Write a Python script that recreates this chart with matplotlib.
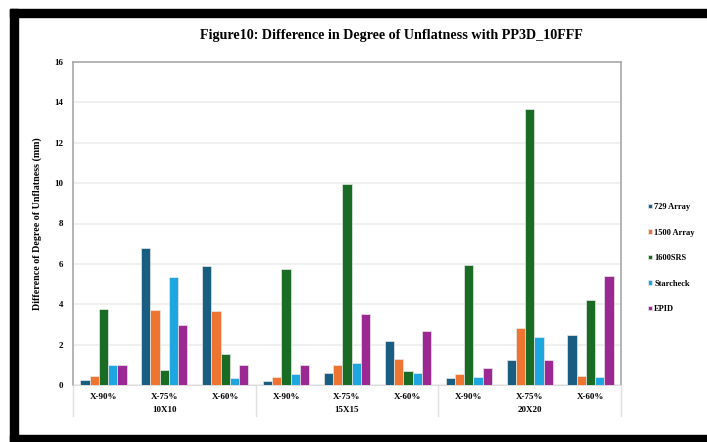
import numpy as np
import matplotlib.pyplot as plt
import matplotlib.transforms as mtransforms
from matplotlib.patches import Rectangle

## Data

groups = ['10X10', '15X15', '20X20']
positions = ['X-90%', 'X-75%', 'X-60%']
series = ['729 Array', '1500 Array', '1600SRS', 'Starcheck', 'EPID']

# one value per category, in order 10X10 (90, 75, 60), 15X15 (...), 20X20 (...)
array729 = [0.25, 6.8, 5.9, 0.2, 0.58, 2.18, 0.33, 1.24, 2.49]
array1500 = [0.46, 3.73, 3.68, 0.38, 0.97, 1.29, 0.53, 2.8, 0.45]
srs1600 = [3.75, 0.73, 1.52, 5.73, 9.95, 0.71, 5.94, 13.65, 4.21]
starcheck = [1.0, 5.35, 0.35, 0.53, 1.07, 0.59, 0.38, 2.38, 0.38]
epid = [1.0, 2.99, 1.0, 1.0, 3.51, 2.67, 0.83, 1.24, 5.42]

colors = ['#195e80', '#ee7431', '#1a6b24', '#1ea6e0', '#9c2894']

plt.rcParams['font.family'] = ['Liberation Serif', 'DejaVu Serif']
plt.rcParams['font.weight'] = 'bold'

W, H = 707, 442
fig = plt.figure(figsize=(W / 100, H / 100), dpi=100)

# black frame of the screenshot
fig.patches.append(Rectangle((10 / W, 1 - 17 / H), 1, 8 / H, transform=fig.transFigure,
                             color='black', zorder=0))
fig.patches.append(Rectangle((10 / W, 0), 8 / W, 1 - 9 / H, transform=fig.transFigure,
                             color='black', zorder=0))
fig.patches.append(Rectangle((10 / W, 0), 1, 7 / H, transform=fig.transFigure,
                             color='black', zorder=0))

x0, x1, y0, y1 = 73, 621, 385, 62
ax = fig.add_axes([x0 / W, 1 - y0 / H, (x1 - x0) / W, (y0 - y1) / H])

values = [array729, array1500, srs1600, starcheck, epid]
n = len(groups) * len(positions)
X = np.arange(n)
width = 0.152
for i, (name, vals) in enumerate(zip(series, values)):
    ax.bar(X + (i - 2) * width, vals, width, color=colors[i], label=name,
           edgecolor='#e8e8e8', linewidth=0.5, zorder=3)

ax.set_xlim(-0.5, n - 0.5)
ax.set_ylim(0, 16)
ax.set_yticks(range(0, 17, 2))
ax.tick_params(axis='y', length=0, labelsize=6.5, pad=7)
ax.grid(axis='y', color='#ececec', linewidth=1.2, zorder=0)
for s in ['top', 'left', 'right']:
    ax.spines[s].set_color('#a8a8a8')
    ax.spines[s].set_linewidth(1.2)
ax.spines['bottom'].set_color('#dcdcdc')

# category axis: position labels, group labels and separators
ax.set_xticks(X)
ax.set_xticklabels(positions * len(groups))
ax.tick_params(axis='x', length=0, labelsize=6.5, pad=6)
trans = mtransforms.blended_transform_factory(ax.transData, ax.transAxes)
for g, name in enumerate(groups):
    ax.text(g * 3 + 1, -0.078, name, transform=trans, ha='center', va='center',
            fontsize=6.5)
for k in range(len(groups) + 1):
    ax.plot([k * 3 - 0.5] * 2, [0, -0.095], transform=trans, color='#e0e0e0',
            linewidth=1, clip_on=False)

ax.set_ylabel('Difference of Degree of Unflatness (mm)', fontsize=7.2,
              fontweight='bold', labelpad=9)

fig.text(391 / W, 1 - 35 / H, 'Figure10: Difference in Degree of Unflatness with PP3D_10FFF',
         ha='center', va='center', fontsize=10.2)

fig.legend(loc='center left', bbox_to_anchor=(640 / W, 1 - 258 / H), frameon=False,
           prop={'size': 6, 'weight': 'bold'}, handlelength=0.5, handleheight=0.5,
           handletextpad=0.3, labelspacing=2.1)

fig.savefig('out.png', dpi=100)
